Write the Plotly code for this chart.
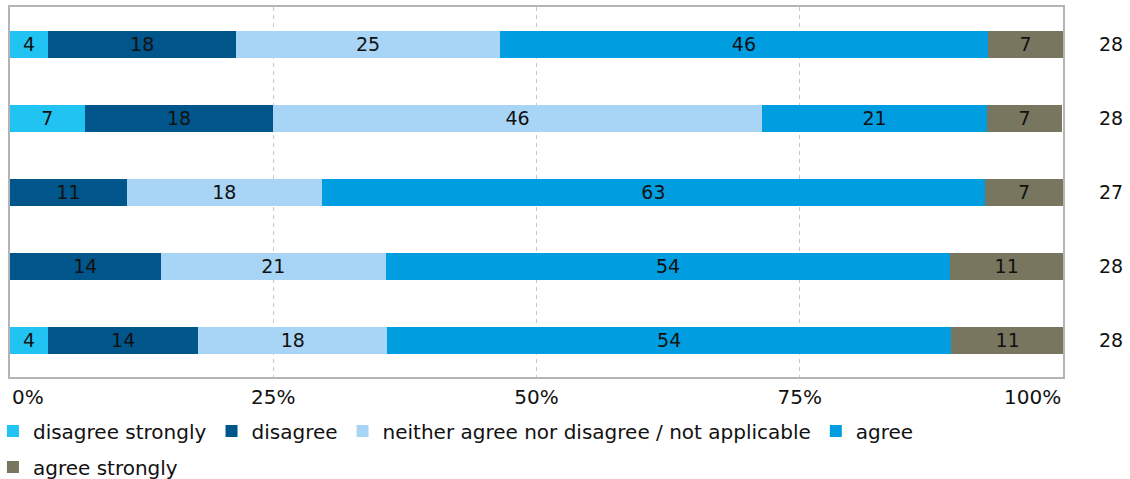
import plotly.graph_objects as go

rows = ["row 1", "row 2", "row 3", "row 4", "row 5"]
n_values = [28, 28, 27, 28, 28]

series_names = [
    "disagree strongly",
    "disagree",
    "neither agree nor disagree / not applicable",
    "agree",
    "agree strongly",
]
disagree_strongly = [3.6, 7.1, 0.0, 0.0, 3.6]
disagree = [17.9, 17.9, 11.1, 14.3, 14.3]
neither = [25.0, 46.4, 18.5, 21.4, 17.9]
agree = [46.4, 21.4, 63.0, 53.6, 53.6]
agree_strongly = [7.1, 7.1, 7.4, 10.7, 10.7]

tick_vals = [0, 25, 50, 75, 100]
tick_text = ["0%", "25%", "50%", "75%", "100%"]

colors = ["#20C3F2", "#00558B", "#A8D5F5", "#009EE0", "#797660"]
series_values = [disagree_strongly, disagree, neither, agree, agree_strongly]

FONT = "DejaVu Sans"
FS = 20
TXT = "#111111"
fig = go.Figure()
for i, (name, vals, col) in enumerate(zip(series_names, series_values, colors)):
    fig.add_trace(go.Bar(
        y=rows, x=vals, name=name, orientation="h",
        marker=dict(color=col, line=dict(width=0)),
        text=[f"{round(v)}" if v > 0 else "" for v in vals],
        textposition="inside", insidetextanchor="middle", textangle=0,
        insidetextfont=dict(family=FONT, size=19, color=TXT),
        legend="legend2" if i == 4 else "legend",
        hoverinfo="skip",
    ))

for r, n in zip(rows, n_values):
    fig.add_annotation(x=1.0456, xref="paper", y=r, yref="y", text=str(n),
                       showarrow=False, xanchor="center",
                       font=dict(family=FONT, size=19, color=TXT))

# end tick labels sit inside the frame (left/right aligned) as in the reference
fig.add_annotation(x=tick_vals[0], xref="x", y=-0.054, yref="paper",
                   text=tick_text[0], showarrow=False, xanchor="left",
                   yanchor="middle", font=dict(family=FONT, size=FS, color=TXT))
fig.add_annotation(x=tick_vals[-1], xref="x", y=-0.054, yref="paper",
                   text=tick_text[-1], showarrow=False, xanchor="right",
                   yanchor="middle", font=dict(family=FONT, size=FS, color=TXT))
tick_text_disp = [""] + tick_text[1:4] + [""]

fig.update_layout(
    width=1130, height=479,
    margin=dict(l=10, r=67, t=7, b=102, autoexpand=False),
    barmode="stack", bargap=0.635,
    uniformtext=dict(mode="show", minsize=19),
    plot_bgcolor="white", paper_bgcolor="white",
    font=dict(family=FONT, size=FS, color=TXT),
    xaxis=dict(range=[0, 100], tickvals=tick_vals, ticktext=tick_text_disp,
               showgrid=True, gridcolor="#C8C8C8", griddash="4px,4px", gridwidth=1,
               zeroline=False, showline=True, mirror=True, linecolor="#B4B4B4",
               linewidth=1.5, ticks="", ticklabelstandoff=1,
               automargin=False,
               tickfont=dict(family=FONT, size=FS, color=TXT)),
    yaxis=dict(type="category", categoryorder="array", categoryarray=rows,
               autorange="reversed", automargin=False,
               showticklabels=False, showgrid=False, zeroline=False,
               showline=True, mirror=True, linecolor="#B4B4B4", linewidth=1.5,
               ticks=""),
    legend=dict(orientation="h", x=-0.0162, xanchor="left", y=-0.1459,
                yanchor="middle", font=dict(family=FONT, size=FS, color=TXT),
                itemclick=False, itemdoubleclick=False, traceorder="normal"),
    legend2=dict(orientation="h", x=-0.0162, xanchor="left", y=-0.2432,
                 yanchor="middle", font=dict(family=FONT, size=FS, color=TXT),
                 itemclick=False, itemdoubleclick=False),
    showlegend=True,
)

fig.write_html("out.html")
